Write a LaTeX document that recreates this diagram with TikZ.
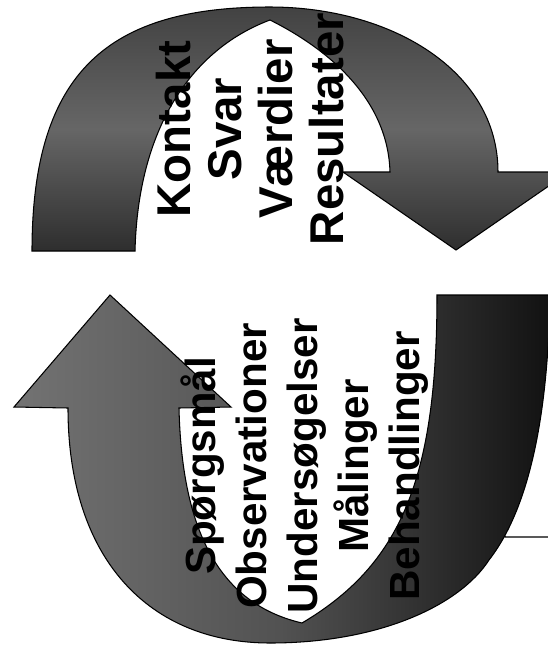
\documentclass[tikz,border=0pt]{standalone}
\usepackage{fontspec}
\setmainfont{Liberation Sans}
\usetikzlibrary{positioning}

\begin{document}
\begin{tikzpicture}[
  x=0.02cm, y=-0.02cm,
  every node/.style={inner sep=0pt, outer sep=0pt},
  arrowbody/.style={draw=black, line width=0.6pt, line join=miter},
  words/.style={align=center, rotate=90, text=black}
]
\useasboundingbox (0,0) rectangle (548,650);
\clip (0,0) rectangle (548,650);

% frame at the right edge, mostly behind the lower arrow
\draw[line width=0.8pt, rounded corners=2pt] (552,342) -- (502,342) -- (502,537) -- (552,537);

% upper arrow, bending over to the right
\path[arrowbody, top color=black!74, bottom color=black!82, middle color=black!60]
  (32,251) .. controls (32,70) and (110,7) .. (270,7)
  .. controls (390,7) and (498,70) .. (498,172)
  -- (569,172) -- (456,250) -- (343,172) -- (390,172)
  .. controls (388,100) and (330,50) .. (270,20)
  .. controls (190,50) and (138,130) .. (135,251) -- cycle;

% lower arrow, bending under to the left
\path[arrowbody, left color=black!55, right color=black!93, middle color=black!68]
  (179,408) -- (231,407) -- (110,295) -- (14,407) -- (68,408)
  .. controls (68,560) and (150,643) .. (270,643)
  .. controls (380,643) and (460,605) .. (489,560)
  .. controls (528,510) and (548,420) .. (550,295)
  -- (437,295)
  .. controls (437,480) and (400,565) .. (302,623)
  .. controls (225,605) and (182,540) .. (179,408) -- cycle;

\node[words, font=\fontsize{27}{29}\selectfont\bfseries] (answers) at (250,129)
  {Kontakt\\Svar\\Værdier\\Resultater};
\node[words, font=\fontsize{24}{29}\selectfont\bfseries] (questions) at (305,466)
  {Spørgsmål\\Observationer\\Undersøgelser\\Målinger\\Behandlinger};

\end{tikzpicture}
\end{document}
